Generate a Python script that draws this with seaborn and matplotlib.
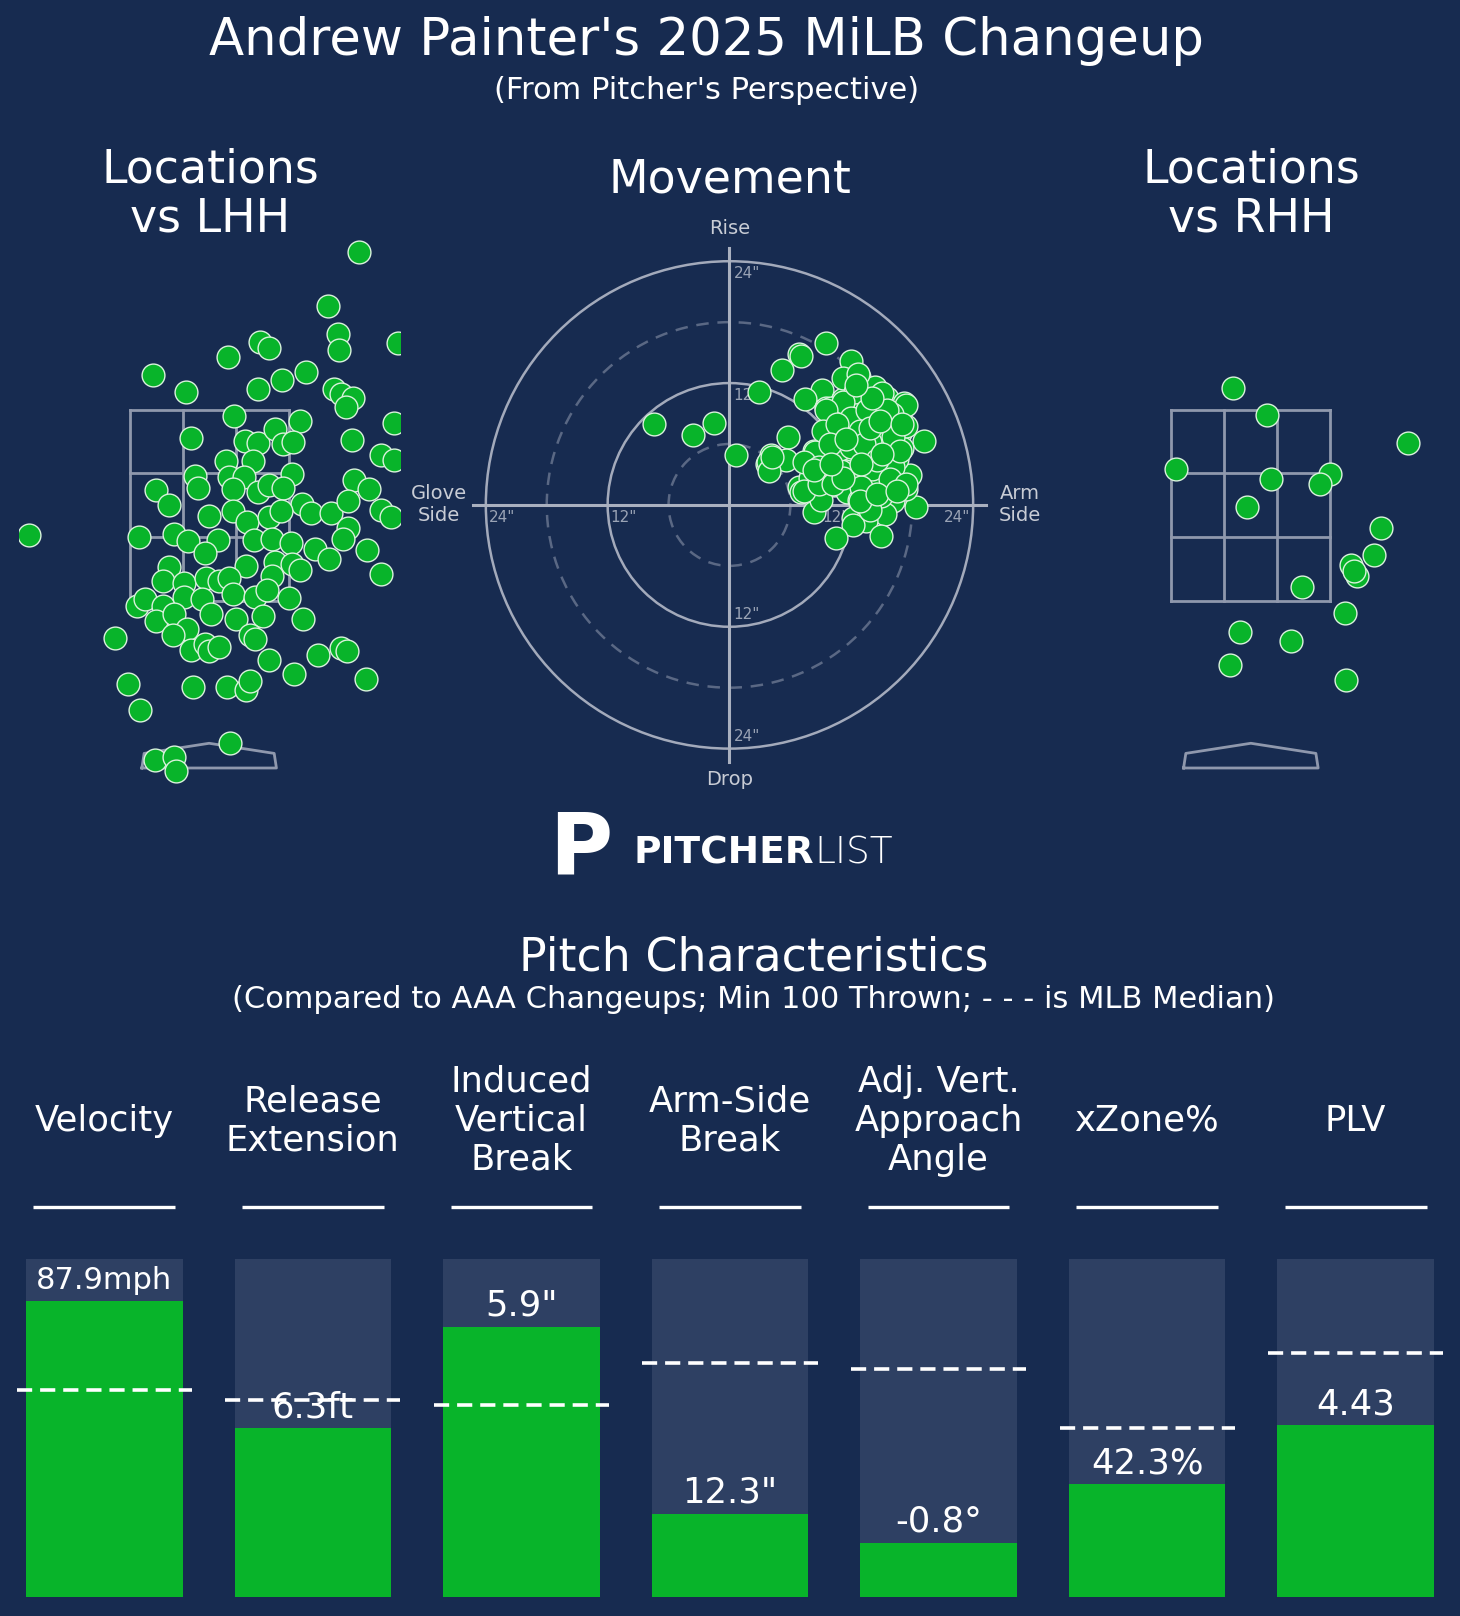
import matplotlib
matplotlib.use("Agg")
from matplotlib import pyplot as plt
from matplotlib.patches import Circle
import seaborn as sns
import pandas as pd
import numpy as np

BG = "#172b50"
BAR_BG = "#2e4063"
GREEN = "#08b42a"
DOT_EDGE = "#d9f2dc"
ZONE = "#8f98ad"

# pitch locations (feet, pitcher's perspective)
lhh_x = [1.34, 1.06, 1.15, 1.16, 1.68, 0.45, 0.53, 0.17, -0.50, -0.21,
         0.44, 0.65, 0.86, 1.11, 1.18, 1.28, 1.22, 0.22, 0.81, 1.65,
         -0.16, 0.32, 0.44, 0.59, 0.66, 0.75, 1.27, 1.53, 1.65, 0.15,
         0.39, -0.13, -0.10, 0.18, 0.31, 0.74, -0.47, -0.36, 0.21, 0.44,
         0.53, 0.66, 1.29, 1.43, 1.53, 1.62, 0.83, 0.91, 1.09, 1.24,
         0.00, 0.21, 0.34, 0.53, 0.64, 1.24, 1.19, -1.61, -0.63, -0.31,
         -0.19, 0.08, 0.40, 0.56, 0.73, -0.04, 0.94, 1.07, 1.41, -0.36,
         0.33, 0.59, 0.74, 0.81, 1.53, -0.41, -0.22, -0.03, 0.09, 0.18,
         0.56, -0.64, -0.57, -0.41, -0.22, -0.06, 0.21, 0.41, 0.52, 0.71,
         -0.47, -0.31, -0.20, -0.32, 0.02, 0.24, 0.48, 0.84, -0.84, -0.16,
         -0.04, 0.00, 0.09, 0.36, 0.41, 0.53, 0.76, 0.97, 1.18, 1.23,
         1.40, -0.72, -0.62, -0.14, 0.16, 0.33, 0.36, 0.19, -0.48, -0.31, -0.30]
lhh_z = [4.70, 4.22, 3.97, 3.83, 3.89, 3.90, 3.85, 3.77, 3.61, 3.46,
         3.48, 3.56, 3.63, 3.48, 3.44, 3.40, 3.32, 3.24, 3.20, 3.18,
         3.05, 3.02, 3.00, 3.13, 2.99, 3.01, 3.03, 2.90, 2.85, 2.84,
         2.84, 2.71, 2.60, 2.70, 2.70, 2.73, 2.58, 2.45, 2.59, 2.57,
         2.63, 2.60, 2.67, 2.59, 2.41, 2.34, 2.46, 2.38, 2.38, 2.49,
         2.35, 2.40, 2.30, 2.34, 2.40, 2.25, 2.15, 2.18, 2.17, 2.19,
         2.13, 2.14, 2.14, 2.15, 2.11, 2.02, 2.06, 1.97, 2.05, 1.90,
         1.91, 1.94, 1.93, 1.87, 1.84, 1.77, 1.76, 1.80, 1.77, 1.80,
         1.82, 1.55, 1.61, 1.55, 1.63, 1.61, 1.66, 1.63, 1.69, 1.62,
         1.42, 1.48, 1.35, 1.29, 1.48, 1.44, 1.46, 1.44, 1.27, 1.16,
         1.21, 1.15, 1.19, 1.29, 1.26, 1.07, 0.95, 1.12, 1.18, 1.15,
         0.90, 0.86, 0.63, 0.83, 0.83, 0.80, 0.88, 0.33, 0.18, 0.21, 0.08]

rhh_x = [-0.16, 0.14, -0.67, 0.18, 0.71, 0.62, -0.03, 1.40, 1.16, 1.10,
         0.89, 0.95, 0.92, 0.46, 0.84, -0.10, 0.36, -0.19, 0.85]
rhh_z = [3.49, 3.25, 2.77, 2.68, 2.73, 2.64, 2.43, 3.00, 2.25, 2.01,
         1.92, 1.82, 1.86, 1.72, 1.49, 1.32, 1.24, 1.03, 0.89]

# movement (inches): horizontal break (arm side +), induced vertical break
mov_hb = [9.5, 6.8, 7.0, 5.2, 12.0, 2.9, -7.4, -3.6, -1.5, 0.6,
          12.8, 14.3, 9.1, 7.4, 11.2, 9.5, 15.5, 17.2, 12.8, 15.3,
          11.6, 13.2, 16.8, 9.5, 5.8, 19.2, 15.9, 13.7, 10.8, 8.3,
          17.0, 4.1, 3.7, 5.6, 8.7, 12.0, 15.3, 12.8, 12.2, 15.7,
          17.8, 6.8, 7.0, 8.9, 10.3, 11.6, 12.8, 16.1, 18.4, 15.3,
          8.3, 12.2, 13.4, 12.2, 10.5, 14.9, 17.4, 14.5, 9.5, 10.8,
          14.5, 17.4, 12.4, 14.1, 7.9, 11.2, 12.4, 17.4, 10.3, 13.2,
          16.5, 14.9, 10.3, 13.5, 11.5, 12.0, 14.0, 13.0, 16.0, 15.0,
          10.0, 11.0, 9.0, 13.8, 3.8, 3.9, 8.3, 7.3,
          12.7, 11.2, 9.5, 12.0, 13.5, 15.5, 9.2, 10.6, 12.9, 16.1,
          13.8, 10.9, 8.4, 4.2, 7.3, 12.0, 13.2, 16.1, 14.5, 15.8,
          8.8, 8.8, 10.2, 12.9, 17.4, 13.8, 14.8, 16.8, 14.5, 16.5,
          11.2, 9.9, 8.3, 15.0, 13.0, 11.5, 14.0, 12.5, 17.0, 10.0]
mov_ivb = [15.9, 14.9, 14.7, 13.3, 14.2, 11.1, 8.0, 6.9, 8.1, 4.9,
           12.6, 11.6, 11.3, 10.4, 10.4, 9.5, 10.5, 10.0, 9.6, 9.3,
           8.5, 7.8, 7.1, 7.5, 6.7, 6.3, 6.7, 6.2, 5.6, 5.3,
           5.6, 4.9, 4.0, 4.4, 3.8, 4.2, 4.2, 3.1, 2.7, 2.7,
           2.9, 1.8, 1.3, 2.0, 2.0, 1.3, 0.5, 0.4, -0.2, -0.9,
           -0.7, -1.3, -1.6, -2.0, -3.3, -3.1, 1.6, 2.4, 3.1, 6.7,
           7.5, 7.8, 6.7, 5.3, 2.7, 12.5, 11.1, 9.8, 8.2, 8.9,
           4.5, 0.9, 4.5, 9.0, 7.0, 5.5, 3.5, 1.8, 9.0, 11.0,
           9.5, 3.3, 0.5, -0.5, 4.2, 3.3, 4.1, 1.4,
           12.9, 10.1, 9.3, 8.6, 9.3, 9.3, 7.3, 8.0, 7.3, 6.7,
           6.2, 5.5, 5.2, 4.7, 4.2, 5.7, 6.0, 3.7, 4.4, 2.6,
           3.7, 2.1, 2.1, 0.4, 2.1, 7.6, 8.3, 5.3, 1.1, 1.4,
           2.7, 6.0, 3.4, 5.0, 4.0, 6.5, 10.5, 11.8, 8.0, 4.0]

# pitch characteristics (percentile within AAA changeups)
metric_names = ["Velocity", "Release\nExtension", "Induced\nVertical\nBreak",
                "Arm-Side\nBreak", "Adj. Vert.\nApproach\nAngle", "xZone%", "PLV"]
metric_text = ["87.9mph", "6.3ft", '5.9"', '12.3"', "-0.8°", "42.3%", "4.43"]
metric_pct = [0.878, 0.500, 0.800, 0.247, 0.162, 0.335, 0.509]
median_pct = [0.613, 0.585, 0.570, 0.692, 0.677, 0.500, 0.723]

plt.rcParams['font.family'] = ['DejaVu Sans']

fig = plt.figure(figsize=(14.6, 16.16), dpi=100, facecolor=BG)

ZW, ZB, ZT = 0.708, 1.6, 3.3
plate_x = [-0.60, -0.58, 0.0, 0.58, 0.60, -0.60]
plate_z = [0.11, 0.24, 0.33, 0.24, 0.11, 0.11]


def draw_locations(ax, xs, zs):
    ax.set_facecolor(BG)
    for x in np.linspace(-ZW, ZW, 4):
        ax.plot([x, x], [ZB, ZT], color=ZONE, lw=2, zorder=1)
    for z in np.linspace(ZB, ZT, 4):
        ax.plot([-ZW, ZW], [z, z], color=ZONE, lw=2, zorder=1)
    ax.plot(plate_x, plate_z, color=ZONE, lw=2, zorder=1)
    sns.scatterplot(x=xs, y=zs, ax=ax, s=270, color=GREEN, edgecolor=DOT_EDGE,
                    linewidth=1, zorder=3, legend=False)
    ax.set_xlim(-1.7, 1.7)
    ax.set_ylim(-0.2, 4.9)
    ax.set_axis_off()


ax_l = fig.add_axes([0.0127, 0.5032, 0.2611, 0.3546])
draw_locations(ax_l, lhh_x, lhh_z)
ax_r = fig.add_axes([0.7262, 0.5032, 0.2611, 0.3546])
draw_locations(ax_r, rhh_x, rhh_z)

# movement plot
ax_m = fig.add_axes([0.3119, 0.5179, 0.3755, 0.3393])
ax_m.set_facecolor(BG)
for r in [12, 24]:
    ax_m.add_patch(Circle((0, 0), r, fill=False, color="#a3aabb", lw=1.8, zorder=1))
for r in [6, 18]:
    ax_m.add_patch(Circle((0, 0), r, fill=False, color="#5a6884", lw=1.8,
                          linestyle=(0, (5, 3.5)), zorder=1))
ax_m.plot([-25.3, 25.3], [0, 0], color="#a9b0bf", lw=2.2, zorder=1)
ax_m.plot([0, 0], [-25.3, 25.3], color="#a9b0bf", lw=2.2, zorder=1)
tick_kw = dict(color="#9aa3b5", fontsize=11, zorder=2)
for r in [12, 24]:
    ax_m.text(0.4, r - 1.2, f'{r}"', ha="left", va="center", **tick_kw)
    ax_m.text(0.4, -r + 1.2, f'{r}"', ha="left", va="center", **tick_kw)
    ax_m.text(-r + 0.3, -0.5, f'{r}"', ha="left", va="top", **tick_kw)
    ax_m.text(r - 0.3, -0.5, f'{r}"', ha="right", va="top", **tick_kw)
lab_kw = dict(color="#c8ccd5", fontsize=14, ha="center", va="center")
ax_m.text(0, 27.2, "Rise", **lab_kw)
ax_m.text(0, -27.0, "Drop", **lab_kw)
ax_m.text(-28.6, 0, "Glove\nSide", **lab_kw)
ax_m.text(28.6, 0, "Arm\nSide", **lab_kw)
sns.scatterplot(x=mov_hb, y=mov_ivb, ax=ax_m, s=270, color=GREEN, edgecolor=DOT_EDGE,
                linewidth=1, zorder=3, legend=False)
ax_m.set_xlim(-27, 27)
ax_m.set_ylim(-27, 27)
ax_m.set_axis_off()

# titles
fig.text(0.484, 0.9745, "Andrew Painter's 2025 MiLB Changeup", color="white",
         fontsize=37, ha="center", va="center")
fig.text(0.484, 0.9439, "(From Pitcher's Perspective)", color="white",
         fontsize=22, ha="center", va="center")
fig.text(0.144, 0.8795, "Locations\nvs LHH", color="white", fontsize=33,
         ha="center", va="center", linespacing=1.12)
fig.text(0.5, 0.8884, "Movement", color="white", fontsize=33, ha="center", va="center")
fig.text(0.857, 0.8795, "Locations\nvs RHH", color="white", fontsize=33,
         ha="center", va="center", linespacing=1.12)

# logo
fig.text(0.398, 0.4735, "P", color="white", fontsize=62, fontweight="heavy",
         ha="center", va="center")
fig.text(0.434, 0.4719, "PITCHER", color="white", fontsize=27, fontweight="bold",
         ha="left", va="center")
fig.text(0.5575, 0.4719, "LIST", color="white", fontsize=27, fontweight="light",
         ha="left", va="center")

fig.text(0.516, 0.4069, "Pitch Characteristics", color="white", fontsize=33,
         ha="center", va="center")
fig.text(0.516, 0.3814, "(Compared to AAA Changeups; Min 100 Thrown; - - - is MLB Median)",
         color="white", fontsize=22, ha="center", va="center")

# bars
ax_b = fig.add_axes([0.0, 0.0115, 1.0, 0.2092])
ax_b.set_facecolor(BG)
df = pd.DataFrame({"metric": metric_names, "pct": metric_pct, "full": 1.0})
sns.barplot(data=df, x="metric", y="full", color=BAR_BG, width=0.75, saturation=1,
            linewidth=0, errorbar=None, ax=ax_b)
sns.barplot(data=df, x="metric", y="pct", color=GREEN, width=0.75, saturation=1,
            linewidth=0, errorbar=None, ax=ax_b)
xs = np.arange(len(metric_names))
ax_b.hlines(median_pct, xs - 0.42, xs + 0.42, colors="white", lw=2.6,
            linestyles=(0, (4.2, 2.2)), zorder=4)
ax_b.hlines([1.155] * len(xs), xs - 0.34, xs + 0.34, colors="white", lw=2.4,
            clip_on=False)
for i, (name, txt, p) in enumerate(zip(metric_names, metric_text, metric_pct)):
    ax_b.text(i, 1.41, name, color="white", fontsize=25.5, ha="center", va="center",
              linespacing=1.19)
    ax_b.text(i, p + 0.033, txt, color="white", fontsize=22 if i == 0 else 25.5,
              ha="center", va="baseline", zorder=5)
ax_b.set_xlim(-0.5, 6.5)
ax_b.set_ylim(0, 1)
ax_b.set_axis_off()

fig.savefig("out.png", dpi=100, facecolor=BG)
